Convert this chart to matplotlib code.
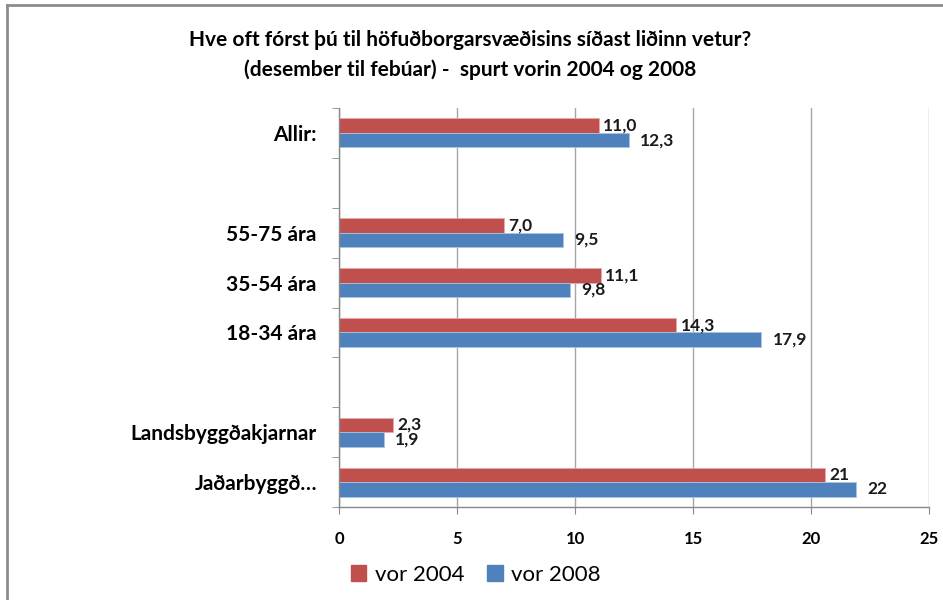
import matplotlib.pyplot as plt
import numpy as np
from matplotlib.lines import Line2D

plt.rcParams["font.family"] = ["Lato", "DejaVu Sans"]

# categories from top to bottom, empty strings are spacer slots
categories = ["Allir:", "", "55-75 ára", "35-54 ára", "18-34 ára", "",
              "Landsbyggðakjarnar", "Jaðarbyggð…"]
vor_2004 = [11.0, None, 7.0, 11.1, 14.3, None, 2.3, 20.6]
vor_2008 = [12.3, None, 9.5, 9.8, 17.9, None, 1.9, 21.9]
labels_2004 = ["11,0", "", "7,0", "11,1", "14,3", "", "2,3", "21"]
labels_2008 = ["12,3", "", "9,5", "9,8", "17,9", "", "1,9", "22"]
x_ticks = [0, 5, 10, 15, 20, 25]

red = "#C0504D"
blue = "#4F81BD"

fig = plt.figure(figsize=(9.43, 6.0), dpi=100)
ax = fig.add_axes([339 / 943, 1 - 507 / 600, 590 / 943, 399 / 600])

y = np.arange(len(categories))
h = 0.29
for i in range(len(categories)):
    if vor_2004[i] is None:
        continue
    ax.barh(y[i] - h / 2, vor_2004[i], height=h, color=red,
            edgecolor="#e8a9a7", linewidth=0.6)
    ax.barh(y[i] + h / 2, vor_2008[i], height=h, color=blue,
            edgecolor="#a9c4e4", linewidth=0.6)
    ax.annotate(labels_2004[i], (vor_2004[i], y[i] - h / 2),
                xytext=(3, 0), textcoords="offset points",
                va="center", ha="left", fontsize=12.5, fontweight="bold",
                color="#1a1a1a")
    ax.annotate(labels_2008[i], (vor_2008[i], y[i] + h / 2),
                xytext=(8, 0), textcoords="offset points",
                va="center", ha="left", fontsize=12.5, fontweight="bold",
                color="#1a1a1a")

ax.set_xlim(0, 25)
ax.set_ylim(len(categories) - 0.5, -0.5)
ax.set_xticks(x_ticks)
ax.set_xticklabels([str(t) for t in x_ticks], fontsize=12, fontweight="bold")
ax.set_yticks(y)
ax.set_yticklabels(categories, fontsize=15, fontweight="bold")
ax.tick_params(axis="y", length=0, pad=16)
ax.set_yticks(np.arange(len(categories) + 1) - 0.5, minor=True)
ax.tick_params(axis="y", which="minor", length=5, color="#888888", direction="out")
ax.tick_params(axis="x", length=5, color="#888888", pad=12)

ax.grid(axis="x", color="#a6a6a6", linewidth=1)
ax.set_axisbelow(True)
for s in ["top", "right"]:
    ax.spines[s].set_visible(False)
for s in ["left", "bottom"]:
    ax.spines[s].set_color("#888888")
    ax.spines[s].set_linewidth(1)

fig.text(470 / 943, 1 - 40 / 600,
         "Hve oft fórst þú til höfuðborgarsvæðisins síðast liðinn vetur?",
         ha="center", va="center", fontsize=15, fontweight="bold")
fig.text(470 / 943, 1 - 70 / 600,
         "(desember til febúar) -  spurt vorin 2004 og 2008",
         ha="center", va="center", fontsize=15, fontweight="bold")

handles = [plt.Rectangle((0, 0), 1, 1, color=red),
           plt.Rectangle((0, 0), 1, 1, color=blue)]
fig.legend(handles, ["vor 2004", "vor 2008"], loc="center",
           bbox_to_anchor=(476 / 943, 1 - 575 / 600), ncol=2, frameon=False,
           fontsize=16, handlelength=0.7, handleheight=0.7,
           handletextpad=0.4, columnspacing=1.0)

# frame of the chart area (only top and left edges show in the crop)
fig.add_artist(Line2D([7 / 943, 1], [1 - 5 / 600, 1 - 5 / 600],
                      color="#8c8c8c", linewidth=2))
fig.add_artist(Line2D([7 / 943, 7 / 943], [0, 1 - 5 / 600],
                      color="#8c8c8c", linewidth=2))

fig.savefig("out.png", dpi=100)
